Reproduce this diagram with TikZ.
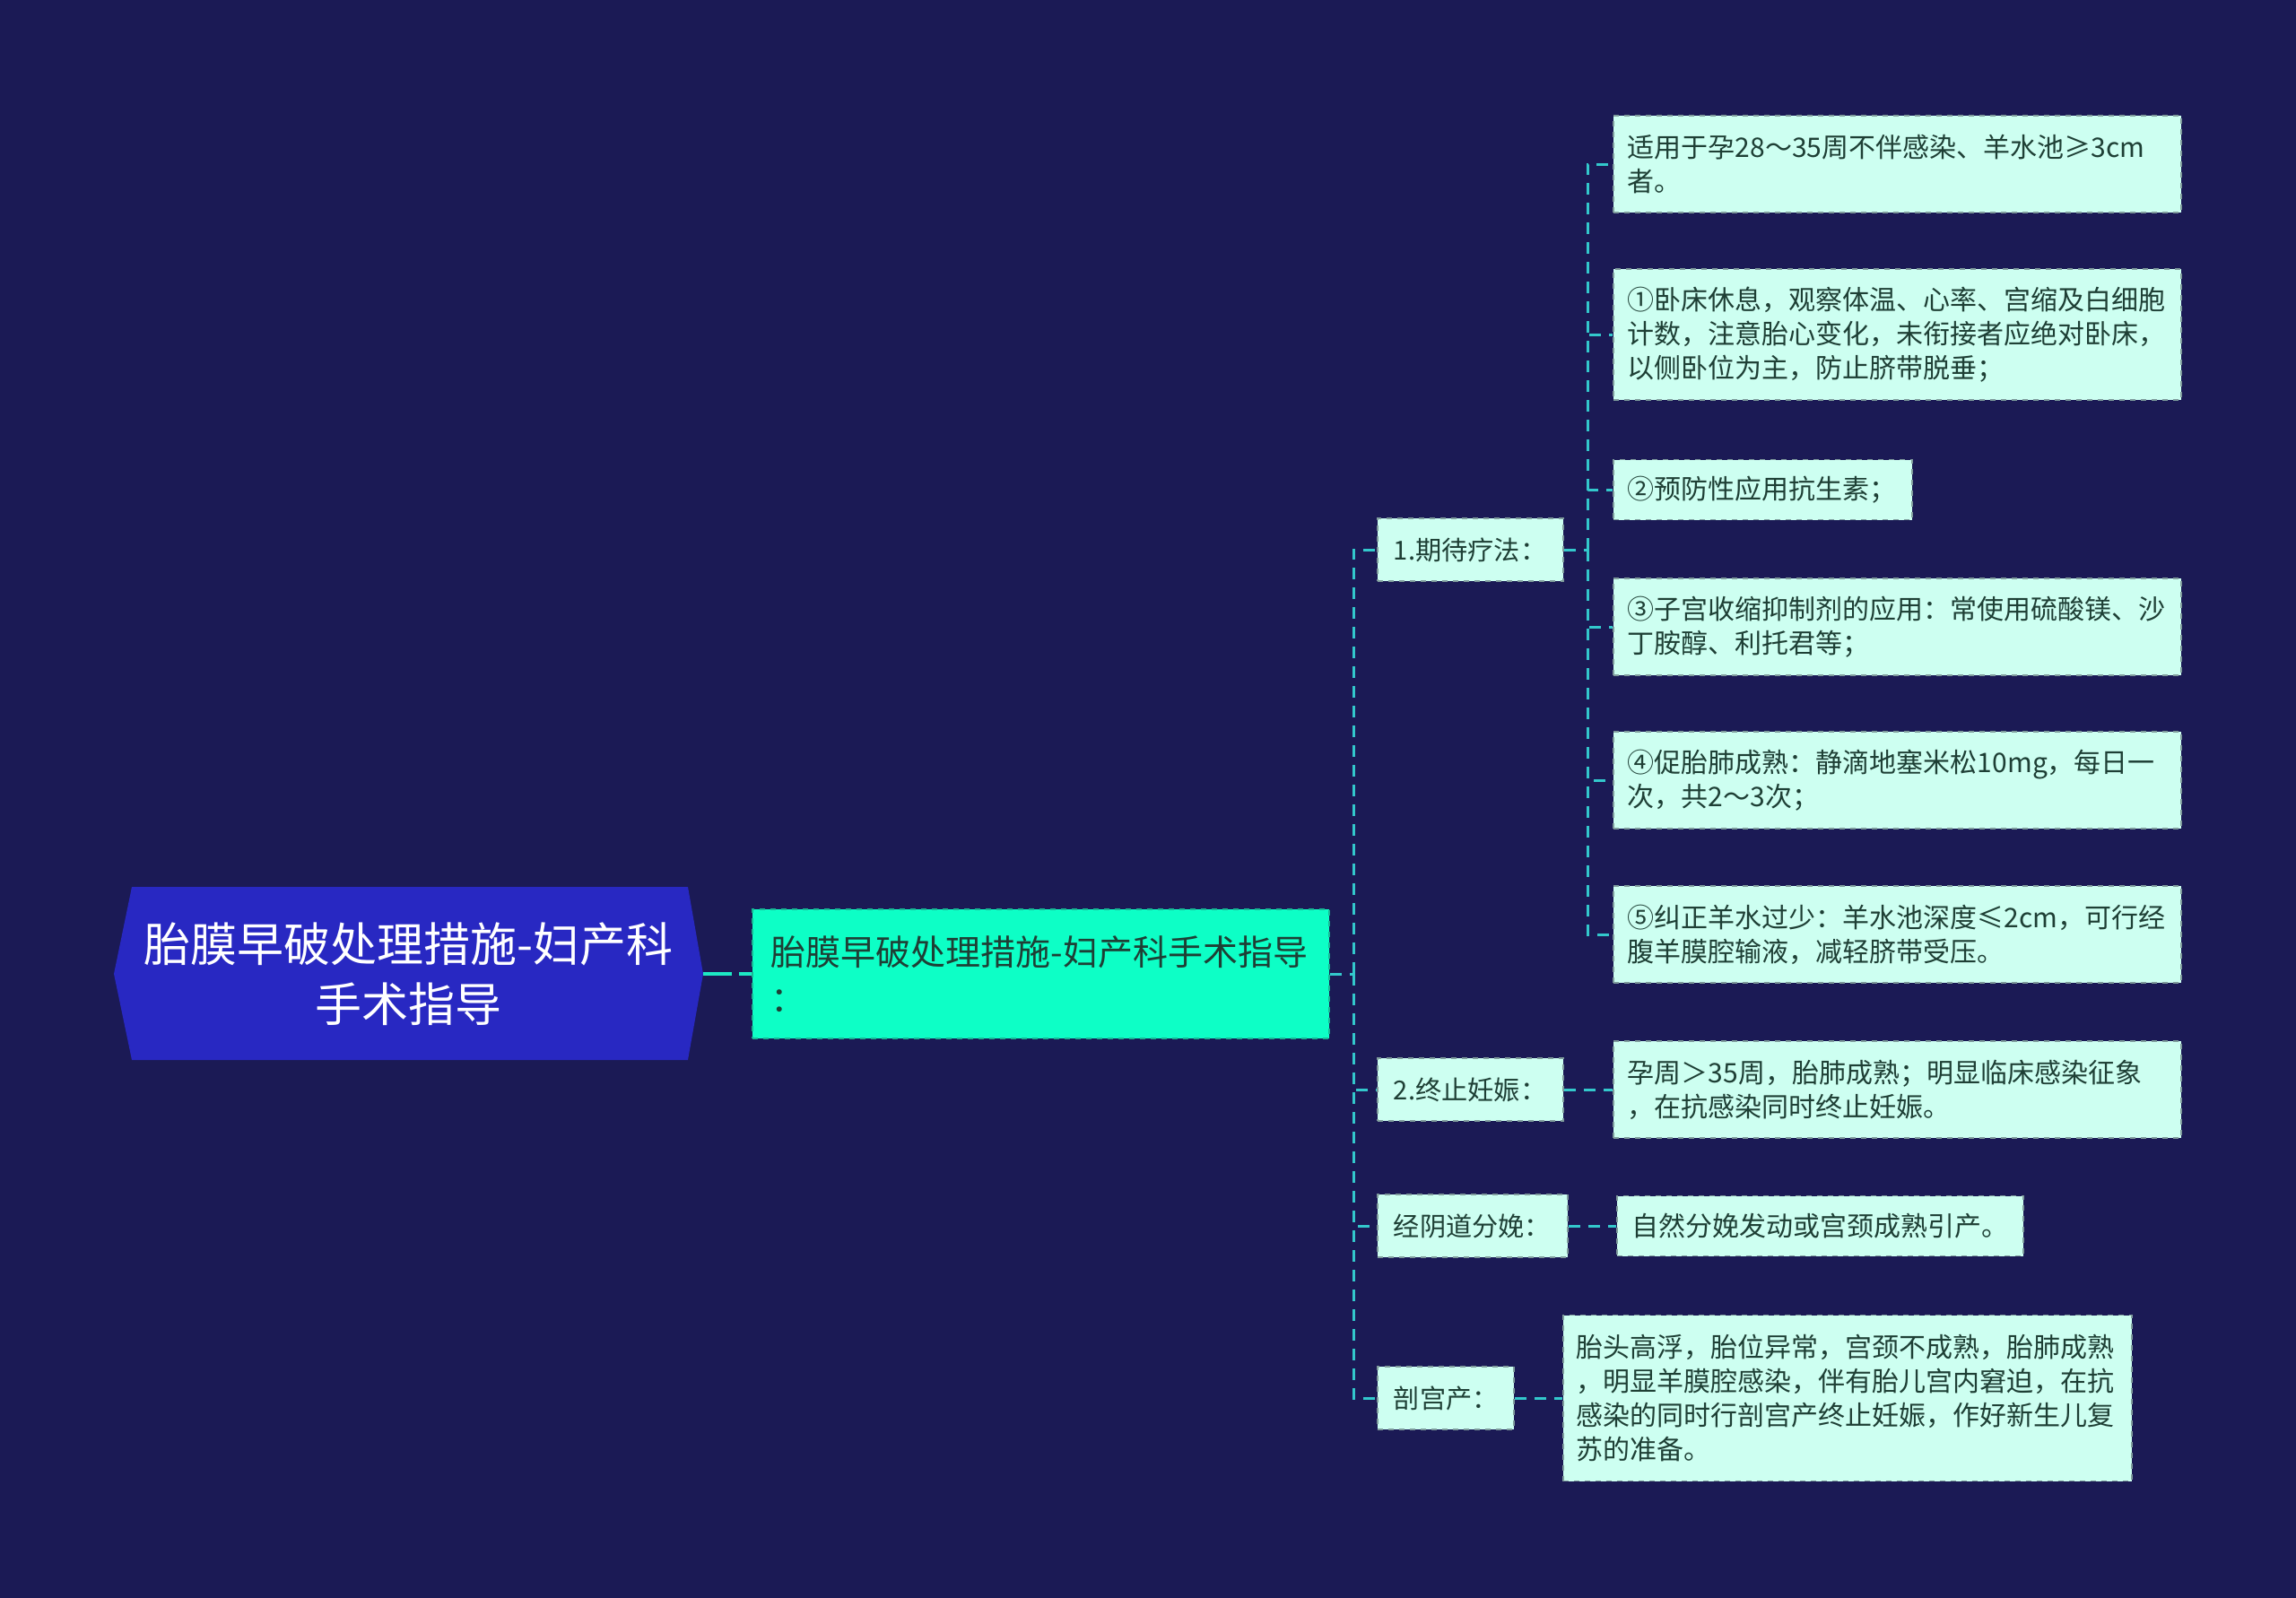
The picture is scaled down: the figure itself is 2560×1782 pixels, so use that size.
\documentclass[tikz,border=0pt]{standalone}
\usepackage{fontspec}
\setmainfont{Noto Sans CJK SC}
\definecolor{bg}{HTML}{1B1A55}
\definecolor{rootfill}{HTML}{2828C2}
\definecolor{mainfill}{HTML}{0DFFC6}
\definecolor{maindraw}{HTML}{17B894}
\definecolor{leaffill}{HTML}{CDFFF1}
\definecolor{leafdraw}{HTML}{7F9C9C}
\definecolor{leaftext}{HTML}{1E3F35}
\definecolor{linkc}{HTML}{33C8CC}
\definecolor{rootlink}{HTML}{1DE9C4}
\begin{document}
\begin{tikzpicture}[x=0.5pt,y=-0.5pt,
  leaf/.style={draw=leafdraw, dashed, line width=0.9pt, fill=leaffill, text=leaftext,
    font=\fontsize{15}{19}\selectfont, align=left, inner xsep=8pt, inner ysep=0pt, anchor=west},
  midnode/.style={leaf, inner xsep=9pt, minimum height=35pt, font=\fontsize{14.6}{19}\selectfont},
  link/.style={draw=linkc, line width=1.5pt, dash pattern=on 6.5pt off 4.5pt}
]
\fill[bg] (0,0) rectangle (2560,1782);
\useasboundingbox (0,0) rectangle (2560,1782);

% root
\fill[rootfill] (127,1086) -- (147,989) -- (767,989) -- (784,1086) -- (767,1182) -- (147,1182) -- cycle;
\node[text=white, align=center, font=\fontsize{26}{33.5}\selectfont, minimum width=328.5pt, minimum height=96.5pt, inner sep=0pt]
  (root) at (455.5,1086) {\mbox{胎膜早破处理措施-妇产科}\\手术指导};

% main
\node[draw=maindraw, dashed, line width=0.9pt, fill=mainfill, text=leaftext, anchor=west,
  font=\fontsize{19.5}{26}\selectfont, align=left, inner xsep=10.5pt, inner ysep=0pt,
  text width=300.5pt, minimum height=72pt] (main) at (838,1086) {\mbox{胎膜早破处理措施-妇产科手术指导}\\：};

% level 2
\node[midnode, text width=85.5pt] (n1) at (1535,613) {1.期待疗法：};
\node[midnode, text width=85.5pt] (n2) at (1535,1215) {2.终止妊娠：};
\node[midnode, text width=88pt] (n3) at (1535,1367) {经阴道分娩：};
\node[midnode, text width=58pt] (n4) at (1535,1559) {剖宫产：};

% leaves of n1
\node[leaf, text width=300.5pt, minimum height=54pt] (a) at (1798,183) {适用于孕28～35周不伴感染、羊水池≥3cm\\者。};
\node[leaf, text width=300.5pt, minimum height=73pt] (b) at (1798,373) {①卧床休息，观察体温、心率、宫缩及白细胞\\计数，注意胎心变化，未衔接者应绝对卧床，\\以侧卧位为主，防止脐带脱垂；};
\node[leaf, text width=150.5pt, minimum height=33.5pt] (c) at (1798,546) {②预防性应用抗生素；};
\node[leaf, text width=300.5pt, minimum height=54pt] (d) at (1798,699) {③子宫收缩抑制剂的应用：常使用硫酸镁、沙\\丁胺醇、利托君等；};
\node[leaf, text width=300.5pt, minimum height=54pt] (e) at (1798,870) {④促胎肺成熟：静滴地塞米松10mg，每日一\\次，共2～3次；};
\node[leaf, text width=300.5pt, minimum height=54pt] (f) at (1798,1042) {⑤纠正羊水过少：羊水池深度≤2cm，可行经\\腹羊膜腔输液，减轻脐带受压。};

% other leaves
\node[leaf, text width=300.5pt, minimum height=54pt] (l2) at (1798,1215) {孕周＞35周，胎肺成熟；明显临床感染征象\\，在抗感染同时终止妊娠。};
\node[leaf, text width=209.5pt, inner xsep=8.5pt, minimum height=33.5pt] (l3) at (1802,1367) {自然分娩发动或宫颈成熟引产。};
\node[leaf, text width=302pt, inner xsep=7.5pt, minimum height=92.5pt] (l4) at (1742,1559) {胎头高浮，胎位异常，宫颈不成熟，胎肺成熟\\，明显羊膜腔感染，伴有胎儿宫内窘迫，在抗\\感染的同时行剖宫产终止妊娠，作好新生儿复\\苏的准备。};

% connectors
\draw[draw=rootlink, line width=1.8pt, dash pattern=on 16pt off 4pt] (root.east) -- (main.west);
\coordinate (t) at (1509,1086);
\draw[link] (main.east) -- (t);
\foreach \n in {n1,n2,n3,n4} \draw[link] (t) |- (\n.west);
\coordinate (u) at (1770,613);
\draw[link] (n1.east) -- (u);
\foreach \n in {a,b,c,d,e,f} \draw[link] (u) |- (\n.west);
\draw[link] (n2.east) -- (l2.west);
\draw[link] (n3.east) -- (l3.west);
\draw[link] (n4.east) -- (l4.west);
\end{tikzpicture}
\end{document}
